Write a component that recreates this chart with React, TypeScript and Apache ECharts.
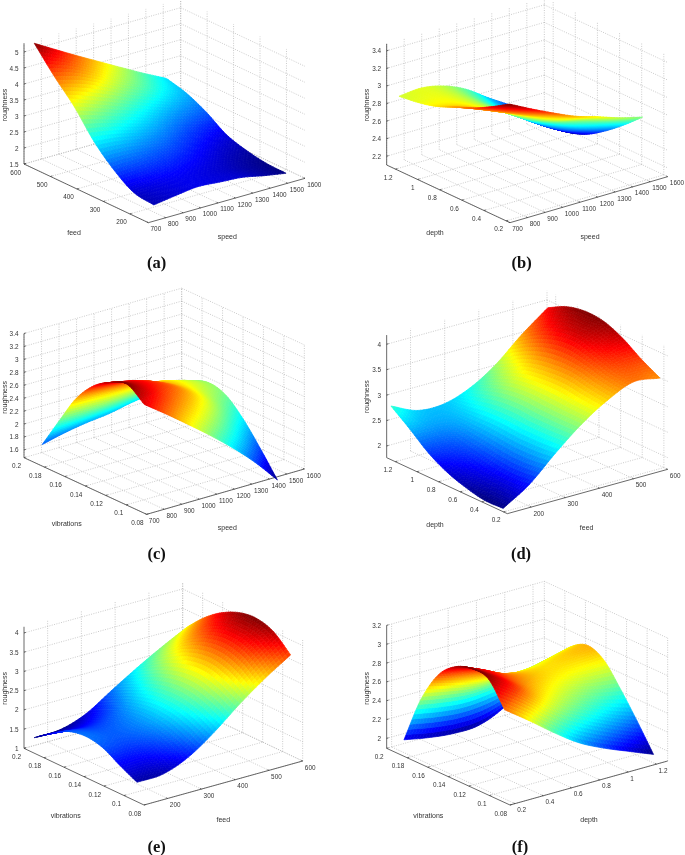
import React, { useEffect, useRef } from "react";
import * as echarts from "echarts";

// ---- axis tick values ----
const speedTicks = [700, 800, 900, 1000, 1100, 1200, 1300, 1400, 1500, 1600];
const feedTicks = [200, 300, 400, 500, 600];
const depthTicks = [0.2, 0.4, 0.6, 0.8, 1, 1.2];
const vibTicks = [0.08, 0.1, 0.12, 0.14, 0.16, 0.18, 0.2];
const zTicksA = [1.5, 2, 2.5, 3, 3.5, 4, 4.5, 5];
const zTicksB = [2.2, 2.4, 2.6, 2.8, 3, 3.2, 3.4];
const zTicksC = [1.6, 1.8, 2, 2.2, 2.4, 2.6, 2.8, 3, 3.2, 3.4];
const zTicksD = [2, 2.5, 3, 3.5, 4];
const zTicksE = [1, 1.5, 2, 2.5, 3, 3.5, 4];
const zTicksF = [2, 2.2, 2.4, 2.6, 2.8, 3, 3.2];

// ---- surface sample positions ----
const speedGrid = [745, 872, 998, 1125, 1252, 1378, 1505];
const feedGridA = [139, 214, 289, 365, 440, 515, 591];
const depthGridB = [0.24, 0.41, 0.57, 0.74, 0.91, 1.07, 1.24];
const vibGridC = [0.09, 0.107, 0.123, 0.14, 0.157, 0.174, 0.19];
const feedGridD = [139, 216, 292, 369, 445, 522, 599];
const depthGridD = [0.232, 0.405, 0.577, 0.75, 0.923, 1.096, 1.269];
const feedGridE = [139, 215, 291, 367, 443, 519, 594];
const vibGridE = [0.09, 0.107, 0.124, 0.141, 0.159, 0.176, 0.193];
const depthGridF = [0.2, 0.375, 0.55, 0.725, 0.9, 1.08, 1.253];
const vibGridF = [0.09, 0.106, 0.123, 0.139, 0.155, 0.172, 0.188];

// ---- roughness: one row per y-grid value ----
const roughA = [
  [1.95, 2.05, 2.13, 2.08, 2.03, 1.89, 1.77],
  [2.04, 2.14, 2.18, 2.12, 2.02, 1.9, 1.79],
  [2.45, 2.47, 2.43, 2.33, 2.18, 2.02, 1.9],
  [3.05, 2.97, 2.82, 2.66, 2.46, 2.27, 2.1],
  [3.85, 3.6, 3.35, 3.1, 2.85, 2.65, 2.5],
  [4.5, 4.3, 4.0, 3.65, 3.35, 3.05, 2.8],
  [5.24, 4.84, 4.45, 4.07, 3.69, 3.32, 2.97],
];
const roughB = [
  [3.38, 3.25, 3.13, 3.02, 2.94, 2.855, 2.79],
  [3.25, 3.12, 3.0, 2.88, 2.8, 2.7, 2.6],
  [3.14, 3.03, 2.92, 2.78, 2.66, 2.54, 2.44],
  [3.05, 2.97, 2.86, 2.71, 2.56, 2.42, 2.3],
  [2.96, 2.93, 2.84, 2.69, 2.52, 2.36, 2.22],
  [2.91, 2.91, 2.84, 2.7, 2.53, 2.36, 2.19],
  [2.88, 2.9, 2.85, 2.74, 2.57, 2.41, 2.22],
];
const roughC = [
  [3.07, 2.82, 2.56, 2.29, 2.0, 1.68, 1.31],
  [3.26, 3.05, 2.83, 2.6, 2.33, 2.02, 1.68],
  [3.17, 3.08, 2.95, 2.78, 2.55, 2.28, 2.0],
  [2.99, 2.93, 2.87, 2.75, 2.6, 2.42, 2.25],
  [2.67, 2.65, 2.62, 2.6, 2.55, 2.45, 2.325],
  [2.19, 2.2, 2.22, 2.26, 2.3, 2.3, 2.225],
  [1.72, 1.8, 1.86, 1.9, 1.97, 2.02, 2.05],
];
const roughD = [
  [1.79, 2.12, 2.59, 3.02, 3.35, 3.57, 3.5],
  [1.78, 2.08, 2.55, 3.02, 3.4, 3.65, 3.7],
  [1.86, 2.12, 2.55, 3.03, 3.47, 3.78, 3.94],
  [1.99, 2.2, 2.58, 3.05, 3.45, 3.9, 4.1],
  [2.2, 2.3, 2.58, 3.0, 3.38, 3.85, 4.13],
  [2.5, 2.45, 2.55, 2.87, 3.22, 3.7, 4.05],
  [2.78, 2.55, 2.53, 2.7, 3.02, 3.47, 3.86],
];
const roughE = [
  [1.445, 1.47, 1.73, 2.19, 2.74, 3.23, 3.65],
  [1.67, 1.7, 1.95, 2.42, 3.0, 3.6, 4.04],
  [1.92, 1.9, 2.1, 2.55, 3.15, 3.75, 4.18],
  [2.01, 1.95, 2.12, 2.55, 3.12, 3.7, 4.12],
  [1.92, 1.85, 2.02, 2.42, 2.95, 3.48, 3.9],
  [1.65, 1.62, 1.82, 2.22, 2.7, 3.15, 3.565],
  [1.34, 1.36, 1.58, 2.0, 2.41, 2.785, 3.12],
];
const roughF = [
  [2.84, 2.65, 2.45, 2.27, 2.14, 2.03, 1.925],
  [3.09, 2.92, 2.72, 2.55, 2.42, 2.3, 2.2],
  [3.115, 2.97, 2.82, 2.7, 2.6, 2.52, 2.47],
  [3.05, 2.95, 2.83, 2.75, 2.7, 2.68, 2.69],
  [2.88, 2.8, 2.72, 2.68, 2.68, 2.72, 2.76],
  [2.53, 2.48, 2.45, 2.47, 2.5, 2.58, 2.65],
  [2.03, 1.98, 1.95, 1.96, 2.07, 2.28, 2.43],
];

const speedRange = [700, 1600];
const feedRange = [130, 600];
const depthRange = [0.165, 1.28];
const vibRange = [0.08, 0.2];

// Panel layout. Screen positions below are in panel units (3 units = 1 pixel).
const panels = [
  {
    tag: "(a)", box: [0, 0, 340, 280], F: [445, 668], L: [72, 492], R: [915, 535],
    zRange: [1.5, 5.27], zScale: 96, xRange: speedRange, yRange: feedRange,
    xTicks: speedTicks, yTicks: feedTicks, zTicks: zTicksA, xs: speedGrid, ys: feedGridA, rows: roughA,
    xName: "speed", yName: "feed", xPos: [682, 708], yPos: [222, 698], zPos: [12, 315], tagPos: [470, 787],
  },
  {
    tag: "(b)", box: [345, 0, 340, 280], F: [495, 668], L: [125, 495], R: [968, 530],
    zRange: [2.1, 3.48], zScale: 263.5, xRange: speedRange, yRange: depthRange,
    xTicks: speedTicks, yTicks: depthTicks, zTicks: zTicksB, xs: speedGrid, ys: depthGridB, rows: roughB,
    xName: "speed", yName: "depth", xPos: [735, 708], yPos: [270, 698], zPos: [65, 315], tagPos: [530, 787],
  },
  {
    tag: "(c)", box: [0, 285, 340, 285], F: [440, 688], L: [72, 518], R: [913, 552],
    zRange: [1.48, 3.4], zScale: 194, xRange: speedRange, yRange: vibRange,
    xTicks: speedTicks, yTicks: vibTicks, zTicks: zTicksC, xs: speedGrid, ys: vibGridC, rows: roughC,
    xName: "speed", yName: "vibrations", xPos: [682, 727], yPos: [200, 716], zPos: [12, 337], tagPos: [470, 805],
  },
  {
    tag: "(d)", box: [345, 285, 340, 285], F: [487, 686], L: [125, 518], R: [968, 553],
    zRange: [1.77, 4.18], zScale: 152.6, xRange: feedRange, yRange: depthRange,
    xTicks: feedTicks, yTicks: depthTicks, zTicks: zTicksD, xs: feedGridD, ys: depthGridD, rows: roughD,
    xName: "feed", yName: "depth", xPos: [725, 727], yPos: [270, 717], zPos: [65, 335], tagPos: [528, 805],
  },
  {
    tag: "(e)", box: [0, 575, 340, 280], F: [432, 690], L: [72, 520], R: [908, 558],
    zRange: [1, 4.16], zScale: 115.4, xRange: feedRange, yRange: vibRange,
    xTicks: feedTicks, yTicks: vibTicks, zTicks: zTicksE, xs: feedGridE, ys: vibGridE, rows: roughE,
    xName: "feed", yName: "vibrations", xPos: [670, 732], yPos: [197, 722], zPos: [12, 340], tagPos: [470, 815],
  },
  {
    tag: "(f)", box: [345, 575, 340, 280], F: [495, 690], L: [125, 520], R: [968, 558],
    zRange: [1.894, 3.2], zScale: 282.5, xRange: depthRange, yRange: vibRange,
    xTicks: depthTicks, yTicks: vibTicks, zTicks: zTicksF, xs: depthGridF, ys: vibGridF, rows: roughF,
    xName: "depth", yName: "vibrations", xPos: [732, 732], yPos: [250, 722], zPos: [65, 340], tagPos: [525, 815],
  },
];

const SANS = "'Liberation Sans', Arial, sans-serif";
const SERIF = "'Liberation Serif', 'Times New Roman', serif";
const SUB = 8;

const clamp01 = (v: number) => Math.max(0, Math.min(1, v));
function jet(t: number) {
  const q = clamp01(t);
  const r = clamp01(Math.min(4 * q - 1.5, -4 * q + 4.5));
  const g = clamp01(Math.min(4 * q - 0.5, -4 * q + 3.5));
  const b = clamp01(Math.min(4 * q + 0.5, -4 * q + 2.5));
  return `rgb(${Math.round(r * 255)},${Math.round(g * 255)},${Math.round(b * 255)})`;
}

function projector(p: any) {
  const [x0, x1] = p.xRange;
  const [y0, y1] = p.yRange;
  const [z0] = p.zRange;
  return (x: number, y: number, z: number) => {
    const u = (x - x0) / (x1 - x0);
    const v = (y - y0) / (y1 - y0);
    return [
      p.F[0] + u * (p.R[0] - p.F[0]) + v * (p.L[0] - p.F[0]),
      p.F[1] + u * (p.R[1] - p.F[1]) + v * (p.L[1] - p.F[1]) - (z - z0) * p.zScale,
    ];
  };
}

// Smooth drawing between the read values (like a line's smooth: true).
function cr(a: number, b: number, c: number, d: number, t: number) {
  return 0.5 * (2 * b + (c - a) * t + (2 * a - 5 * b + 4 * c - d) * t * t + (3 * b - a - 3 * c + d) * t * t * t);
}
function sampleRows(rows: number[][], i: number, j: number, fi: number, fj: number) {
  const n = rows.length;
  const m = rows[0].length;
  const at = (r: number, c: number) => {
    const rr = Math.max(0, Math.min(n - 1, r));
    const cc = Math.max(0, Math.min(m - 1, c));
    const ex = (r - rr) + (c - cc);
    if (ex === 0) return rows[rr][cc];
    const r2 = Math.max(0, Math.min(n - 1, rr - (r - rr)));
    const c2 = Math.max(0, Math.min(m - 1, cc - (c - cc)));
    return 2 * rows[rr][cc] - rows[r2][c2];
  };
  const col = [-1, 0, 1, 2].map((dr) =>
    cr(at(j + dr, i - 1), at(j + dr, i), at(j + dr, i + 1), at(j + dr, i + 2), fi)
  );
  return cr(col[0], col[1], col[2], col[3], fj);
}

function frameRender(p: any) {
  return (_params: any, api: any) => {
    const pr = projector(p);
    const [x0, x1] = p.xRange;
    const [y0, y1] = p.yRange;
    const [z0, z1] = p.zRange;
    const c = (q: number[]) => api.coord(q);
    const children: any[] = [];
    const seg = (a: number[], b: number[], style: any) => {
      const A = c(a);
      const B = c(b);
      children.push({ type: "line", shape: { x1: A[0], y1: A[1], x2: B[0], y2: B[1] }, style });
    };
    const grid = { stroke: "#b4b4b4", lineWidth: 0.7, lineDash: [1, 1.4], fill: null };
    const axis = { stroke: "#444", lineWidth: 0.8, fill: null };
    const label = (q: number[], text: string, align: string, dx: number, dy: number) => {
      const P = c(q);
      children.push({
        type: "text", x: P[0] + dx, y: P[1] + dy,
        style: { text, fill: "#333", fontSize: 6.4, fontFamily: SANS, align, verticalAlign: "middle" },
      });
    };
    const dx = (x1 - x0) * 0.012;
    const dy = (y1 - y0) * 0.012;
    p.xTicks.forEach((x: number) => {
      seg(pr(x, y0, z0), pr(x, y1, z0), grid);
      seg(pr(x, y1, z0), pr(x, y1, z1), grid);
    });
    p.yTicks.forEach((y: number) => {
      seg(pr(x0, y, z0), pr(x1, y, z0), grid);
      seg(pr(x1, y, z0), pr(x1, y, z1), grid);
    });
    p.zTicks.forEach((z: number) => {
      seg(pr(x0, y1, z), pr(x1, y1, z), grid);
      seg(pr(x1, y1, z), pr(x1, y0, z), grid);
    });
    seg(pr(x0, y0, z0), pr(x1, y0, z0), axis);
    seg(pr(x0, y0, z0), pr(x0, y1, z0), axis);
    seg(pr(x0, y1, z0), pr(x0, y1, z1), axis);
    p.xTicks.forEach((x: number) => {
      seg(pr(x, y0, z0), pr(x, y0 + dy, z0), axis);
      label(pr(x, y0, z0), String(x), "left", 2.2, 6);
    });
    p.yTicks.forEach((y: number) => {
      seg(pr(x0, y, z0), pr(x0 + dx, y, z0), axis);
      label(pr(x0, y, z0), String(y), "right", -3, 8);
    });
    p.zTicks.forEach((z: number) => {
      seg(pr(x0, y1, z), pr(x0 + dx, y1, z), axis);
      label(pr(x0, y1, z), String(z), "right", -5.5, 0);
    });
    const title = (q: number[], text: string, rotation = 0) => {
      const P = c(q);
      children.push({
        type: "text", x: P[0], y: P[1], rotation,
        style: { text, fill: "#333", fontSize: 7, fontFamily: SANS, align: "center", verticalAlign: "middle" },
      });
    };
    title(p.xPos, p.xName);
    title(p.yPos, p.yName);
    title(p.zPos, "roughness", Math.PI / 2);
    const T = c(p.tagPos);
    children.push({
      type: "text", x: T[0], y: T[1],
      style: { text: p.tag, fill: "#111", fontSize: 16.5, fontWeight: "bold", fontFamily: SERIF, align: "center", verticalAlign: "middle" },
    });
    return { type: "group", children };
  };
}

function surfaceRender(p: any) {
  const pr = projector(p);
  const flat = p.rows.flat();
  const zLo = Math.min(...flat);
  const zHi = Math.max(...flat);
  return (_params: any, api: any) => {
    const i = api.value(0);
    const j = api.value(1);
    const children: any[] = [];
    const pt = (a: number, b: number) => {
      const fi = a / SUB;
      const fj = b / SUB;
      const x = p.xs[i] + (p.xs[i + 1] - p.xs[i]) * fi;
      const y = p.ys[j] + (p.ys[j + 1] - p.ys[j]) * fj;
      const z = sampleRows(p.rows, i, j, fi, fj);
      return { z, xy: api.coord(pr(x, y, z)) };
    };
    for (let b = SUB - 1; b >= 0; b--) {
      for (let a = SUB - 1; a >= 0; a--) {
        const q = [pt(a, b), pt(a + 1, b), pt(a + 1, b + 1), pt(a, b + 1)];
        const zm = (q[0].z + q[1].z + q[2].z + q[3].z) / 4;
        const col = jet((zm - zLo) / (zHi - zLo));
        children.push({
          type: "polygon",
          shape: { points: q.map((e) => e.xy) },
          style: { fill: col, stroke: col, lineWidth: 0.7 },
        });
      }
    }
    return { type: "group", children };
  };
}

export default function App() {
  const ref = useRef<HTMLDivElement>(null);
  useEffect(() => {
    const chart = echarts.init(ref.current!, undefined, { renderer: "svg" });
    const grids: any[] = [];
    const xAxes: any[] = [];
    const yAxes: any[] = [];
    const series: any[] = [];
    panels.forEach((p, k) => {
      const [l, t, w, h] = p.box;
      grids.push({ left: l, top: t, width: w, height: h, show: false });
      xAxes.push({ type: "value", gridIndex: k, min: 0, max: w * 3, show: false });
      yAxes.push({ type: "value", gridIndex: k, min: 0, max: h * 3, inverse: true, show: false });
      series.push({
        type: "custom", name: p.tag + " frame", xAxisIndex: k, yAxisIndex: k, silent: true, clip: false,
        renderItem: frameRender(p), data: [[0, 0]], encode: { x: 0, y: 1 },
      });
      const cells: number[][] = [];
      for (let j = p.ys.length - 2; j >= 0; j--) {
        for (let i = p.xs.length - 2; i >= 0; i--) cells.push([i, j]);
      }
      series.push({
        type: "custom", name: p.tag + " surface", xAxisIndex: k, yAxisIndex: k, silent: true, clip: false,
        renderItem: surfaceRender(p), data: cells, encode: { x: 0, y: 1 }, progressive: 0,
      });
    });
    chart.setOption({
      animation: false,
      backgroundColor: "#fff",
      grid: grids,
      xAxis: xAxes,
      yAxis: yAxes,
      series,
    });
    return () => chart.dispose();
  }, []);
  return <div ref={ref} style={{ position: "fixed", left: 0, top: 0, width: 685, height: 855, filter: "blur(0.45px)" }} />;
}
